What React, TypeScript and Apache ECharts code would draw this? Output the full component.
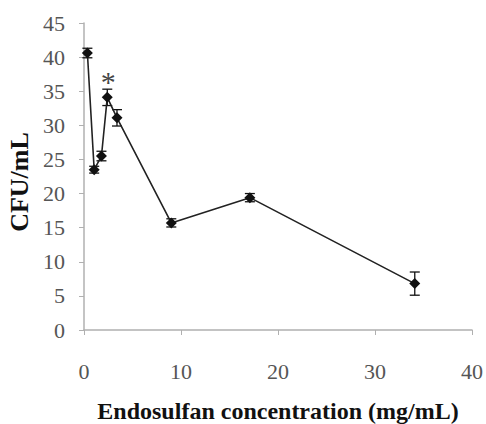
import React, { useEffect, useRef } from "react";
import * as echarts from "echarts";

const concentrations = [0.35, 1.05, 1.8, 2.4, 3.4, 9.0, 17.1, 34.1];
const cfuValues = [40.6, 23.5, 25.5, 34.1, 31.1, 15.7, 19.4, 6.8];
const cfuErrors = [0.7, 0.5, 0.7, 1.2, 1.2, 0.6, 0.6, 1.7];
const significantIndex = 3;
const xTitle = "Endosulfan concentration (mg/mL)";
const yTitle = "CFU/mL";

const FONT = "Liberation Serif";

export default function App() {
  const ref = useRef<HTMLDivElement>(null);
  useEffect(() => {
    if (!ref.current) return;
    const chart = echarts.init(ref.current, undefined, { renderer: "svg" });
    const points = concentrations.map((x, i) => {
      const item: any = { value: [x, cfuValues[i]] };
      if (i === significantIndex) {
        item.label = {
          show: true,
          formatter: "*",
          position: "top",
          distance: 0,
          offset: [1, 5],
          fontSize: 30,
          fontFamily: FONT,
          color: "#444",
        };
      }
      return item;
    });
    const errData = concentrations.map((x, i) => [x, cfuValues[i] - cfuErrors[i], cfuValues[i] + cfuErrors[i]]);
    chart.setOption({
      animation: false,
      backgroundColor: "#fff",
      textStyle: { fontFamily: FONT },
      grid: { left: 84, right: 14, top: 23, bottom: 94, containLabel: false, outerBoundsMode: "none" },
      xAxis: {
        type: "value",
        min: 0,
        max: 40,
        interval: 10,
        name: xTitle,
        nameLocation: "middle",
        nameGap: 69,
        nameTextStyle: { fontFamily: FONT, fontWeight: "bold", fontSize: 24, color: "#111" },
        axisLine: { show: true, lineStyle: { color: "#b0b0b0", width: 1.5 } },
        axisTick: { show: true, inside: false, length: 5, lineStyle: { color: "#b0b0b0" } },
        axisLabel: { fontFamily: FONT, fontSize: 22, color: "#555", margin: 30 },
        splitLine: { show: false },
      },
      yAxis: {
        type: "value",
        min: 0,
        max: 45,
        interval: 5,
        name: yTitle,
        nameLocation: "middle",
        nameGap: 51,
        nameRotate: 90,
        nameTextStyle: { fontFamily: FONT, fontWeight: "bold", fontSize: 26, color: "#111", padding: [0, 11, 0, 0] },
        axisLine: { show: true, lineStyle: { color: "#b0b0b0", width: 1.5 } },
        axisTick: { show: true, inside: false, length: 5, lineStyle: { color: "#b0b0b0" } },
        axisLabel: { fontFamily: FONT, fontSize: 22, color: "#555", margin: 19 },
        splitLine: { show: false },
      },
      series: [
        {
          type: "custom",
          data: errData,
          z: 3,
          renderItem: (params: any, api: any) => {
            const x = api.value(0);
            const lo = api.coord([x, api.value(1)]);
            const hi = api.coord([x, api.value(2)]);
            const w = 5;
            const style = { stroke: "#111", lineWidth: 1.3 };
            return {
              type: "group",
              children: [
                { type: "line", shape: { x1: lo[0], y1: lo[1], x2: hi[0], y2: hi[1] }, style },
                { type: "line", shape: { x1: lo[0] - w, y1: lo[1], x2: lo[0] + w, y2: lo[1] }, style },
                { type: "line", shape: { x1: hi[0] - w, y1: hi[1], x2: hi[0] + w, y2: hi[1] }, style },
              ],
            };
          },
        },
        {
          type: "line",
          data: points,
          z: 4,
          symbol: "diamond",
          symbolSize: 11,
          itemStyle: { color: "#111" },
          lineStyle: { color: "#222", width: 1.6 },
        },
      ],
    });
    return () => chart.dispose();
  }, []);
  return (
    <div
      ref={ref}
      style={{ position: "absolute", left: 0, top: 0, width: 486, height: 424 }}
    />
  );
}
